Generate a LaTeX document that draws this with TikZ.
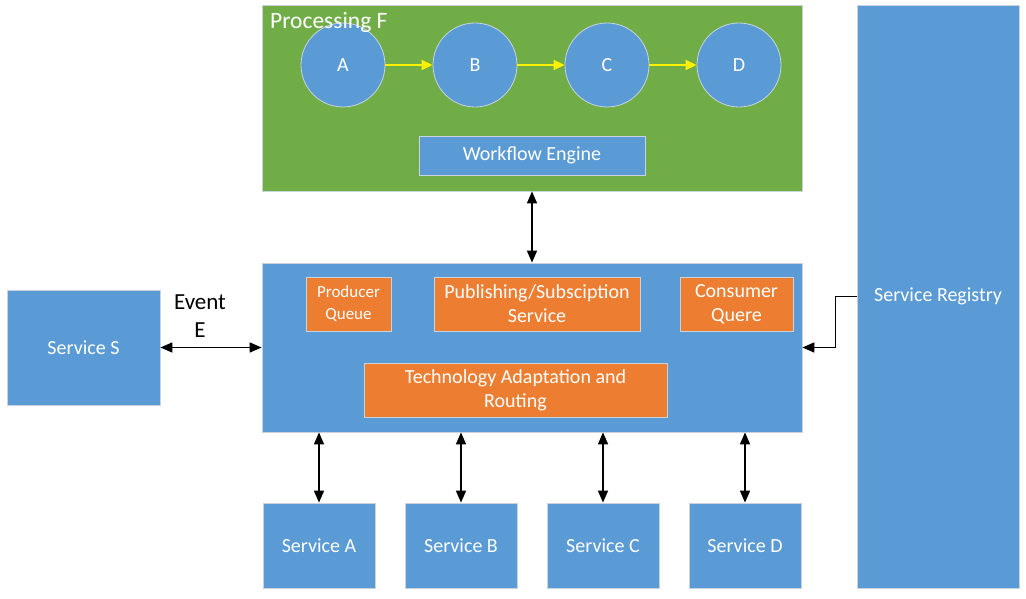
\documentclass[tikz,border=0pt]{standalone}
\usepackage{fontspec}
\setmainfont{Carlito}
\usetikzlibrary{arrows.meta}
\definecolor{vblue}{HTML}{5B9BD5}
\definecolor{vorange}{HTML}{ED7D31}
\definecolor{vgreen}{HTML}{70AD47}
\definecolor{vedge}{HTML}{C9D3DE}
\begin{document}
\begin{tikzpicture}[x=1pt,y=-1pt,
  bluebox/.style={draw=vedge,line width=0.8pt,fill=vblue,text=white,inner sep=0pt,align=center,font=\fontsize{20}{24}\selectfont},
  orangebox/.style={draw=vedge,line width=0.8pt,fill=vorange,text=white,inner sep=0pt,align=center,font=\fontsize{20}{24}\selectfont},
  circ/.style={circle,draw=vedge,line width=0.8pt,fill=vblue,text=white,minimum size=84pt,inner sep=0pt,font=\fontsize{20}{24}\selectfont},
  yarrow/.style={draw=yellow,line width=1.5pt,-{Triangle[length=11pt,width=10pt]}},
  barrow/.style={draw=black,line width=1.6pt,{Triangle[length=12pt,width=10pt]}-{Triangle[length=12pt,width=10pt]}},
  sarrow/.style={draw=black,line width=1.6pt,-{Triangle[length=12pt,width=10pt]}}
]
\useasboundingbox (0,0) rectangle (1026,599);
% Processing F
\node[draw=vedge,line width=0.8pt,fill=vgreen,minimum width=540pt,minimum height=186pt,inner sep=0pt] (green) at (532,98) {};
\node[circ] (ca) at (343,65) {A};
\node[circ] (cb) at (475,65) {B};
\node[circ] (cc) at (607,65) {C};
\node[circ] (cd) at (739,65) {D};
\node[anchor=base west,text=white,font=\fontsize{23.5}{26}\selectfont,inner sep=0pt] (ptitle) at (270,29) {Processing F};
\draw[yarrow] (ca) -- (cb);
\draw[yarrow] (cb) -- (cc);
\draw[yarrow] (cc) -- (cd);
\node[bluebox,minimum width=226pt,minimum height=39pt] (we) at (532,155.5) {Workflow Engine};
% middle
\node[bluebox,minimum width=540pt,minimum height=169pt] (mid) at (532,347.5) {};
\node[orangebox,minimum width=85pt,minimum height=54pt,font=\fontsize{17}{22}\selectfont] (pq) at (348.5,304) {Producer\\Queue};
\node[orangebox,minimum width=206pt,minimum height=54pt] (ps) at (537,304) {Publishing/Subsciption\\Service};
\node[orangebox,minimum width=113pt,minimum height=54pt] (cq) at (736.5,304) {Consumer\\Quere};
\node[orangebox,minimum width=303pt,minimum height=54pt] (tr) at (515.5,390) {Technology Adaptation and\\Routing};
% left
\node[bluebox,minimum width=153pt,minimum height=115pt] (ss) at (83.5,347.5) {Service S};
\node[align=center,font=\fontsize{23}{28}\selectfont,inner sep=0pt] (ev) at (200,316) {Event\\E};
\draw[barrow] (ss.east) -- (mid.west);
% registry
\node[bluebox,minimum width=162pt,minimum height=583pt] (reg) at (938,296.5) {Service Registry};
\draw[sarrow] (reg.west) -- ++(-21,0) |- (mid.east);
% top link
\draw[barrow] (green.south) -- (mid.north);
% bottom services
\node[bluebox,minimum width=112pt,minimum height=85pt] (sa) at (319,545.5) {Service A};
\node[bluebox,minimum width=112pt,minimum height=85pt] (sb) at (461,545.5) {Service B};
\node[bluebox,minimum width=112pt,minimum height=85pt] (sc) at (603,545.5) {Service C};
\node[bluebox,minimum width=112pt,minimum height=85pt] (sd) at (745,545.5) {Service D};
\draw[barrow] (sa.north |- mid.south) -- (sa.north);
\draw[barrow] (sb.north |- mid.south) -- (sb.north);
\draw[barrow] (sc.north |- mid.south) -- (sc.north);
\draw[barrow] (sd.north |- mid.south) -- (sd.north);
\end{tikzpicture}
\end{document}
